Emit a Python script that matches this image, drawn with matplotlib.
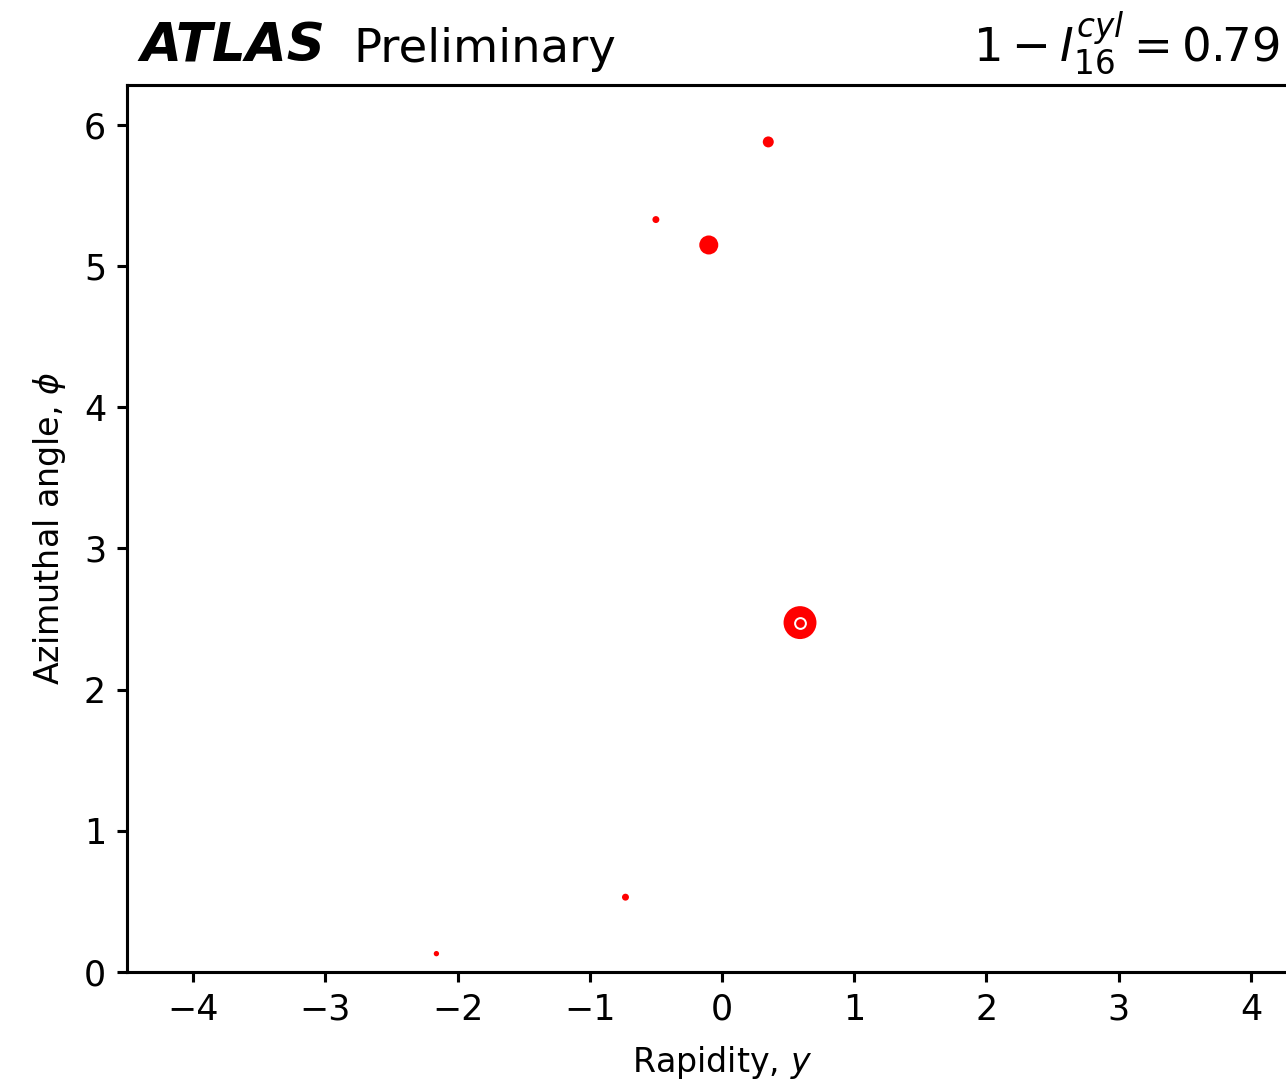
"""
Event display in the rapidity / azimuth plane (ATLAS preliminary style).
"""

import numpy as np
import matplotlib
matplotlib.use("Agg")
import matplotlib.pyplot as plt

# ============================================================
#  Data
# ============================================================

rapidity = [0.59, -0.10, 0.35, -0.50, -0.73, -2.16]
phi      = [2.475, 5.15, 5.88, 5.33, 0.53, 0.13]
pt       = [11.4, 3.8, 1.27, 0.51, 0.51, 0.30]   # marker area ~ pT

axis_y   = [2.475]        # jet axis
axis_x   = [0.59]

x_ticks  = [-4, -3, -2, -1, 0, 1, 2, 3, 4]
y_ticks  = [0, 1, 2, 3, 4, 5, 6]

obs_text = r"$1 - I^{cyl}_{16} = 0.79$"

# ============================================================
#  Figure
# ============================================================

W, H, DPI = 1286, 1082, 222
fig = plt.figure(figsize=(W / DPI, H / DPI), dpi=DPI)

# axes run past the right edge of the picture (as in the reference)
left, right_px, top_px, bot_px = 127, 1317, 85, 972
ax = fig.add_axes([left / W, (H - bot_px) / H,
                   (right_px - left) / W, (bot_px - top_px) / H])

ax.scatter(rapidity, phi, s=np.array(pt) * 10, color="red",
           linewidths=0, zorder=3)
ax.plot(axis_x, axis_y, marker="o", linestyle="none", markersize=3.5,
        markerfacecolor="none", markeredgecolor="white",
        markeredgewidth=0.65, zorder=4)

ax.set_xlim(-4.5, 4.5)
ax.set_ylim(0, 2 * np.pi)
ax.set_xticks(x_ticks)
ax.set_yticks(y_ticks)
for sp in ax.spines.values():
    sp.set_linewidth(1.0)
ax.tick_params(labelsize=11.3, width=1.0, length=3.3)
ax.set_xlabel("Rapidity, $y$", fontsize=10.8, labelpad=5.5)
ax.set_ylabel(r"Azimuthal angle, $\phi$", fontsize=10.8, labelpad=5.0)

# ── header texts ──────────────────────────────────────────
base = (H - 62) / H
fig.text(140 / W, base, "ATLAS", fontsize=17.2,
         fontweight="bold", fontstyle="italic", va="baseline", ha="left")
fig.text(353 / W, base, "Preliminary", fontsize=15.1,
         va="baseline", ha="left")
fig.text(1280 / W, base, obs_text, fontsize=15.1,
         va="baseline", ha="right")

fig.savefig("out.png", dpi=DPI)
plt.close(fig)
